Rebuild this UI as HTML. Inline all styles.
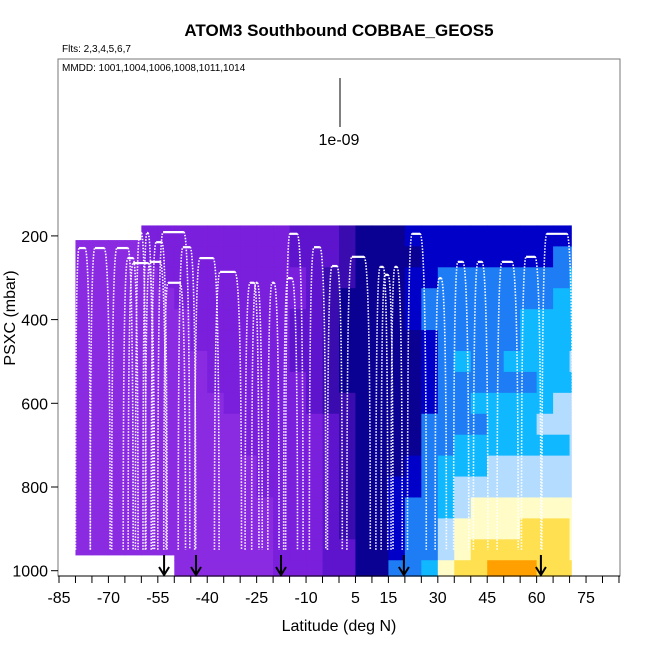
<!DOCTYPE html>
<html><head><meta charset="utf-8"><style>
html,body{margin:0;padding:0;background:#fff;}
svg{display:block;font-family:"Liberation Sans",sans-serif;}
</style></head><body>
<svg id="chart" width="650" height="650" viewBox="0 0 650 650" xmlns="http://www.w3.org/2000/svg">
<text x="339" y="36" text-anchor="middle" font-size="17" font-weight="bold">ATOM3 Southbound COBBAE_GEOS5</text>
<text x="62" y="52" font-size="10">Flts: 2,3,4,5,6,7</text>
<g id="heat"></g>
<g id="dives"></g>
<g id="arrows"></g>
<rect x="58" y="59" width="562" height="517" fill="none" stroke="#777" stroke-width="1"/>
<text x="62" y="71" font-size="10">MMDD: 1001,1004,1006,1008,1011,1014</text>
<line x1="340" y1="78" x2="340" y2="127" stroke="#000" stroke-width="1"/>
<text x="339" y="145" text-anchor="middle" font-size="16">1e-09</text>
<g id="xaxis"></g>
<g id="yaxis"></g>
<text x="339" y="631" text-anchor="middle" font-size="16">Latitude (deg N)</text>
<text transform="translate(15,318) rotate(-90)" text-anchor="middle" font-size="16">PSXC (mbar)</text>
</svg>
<script>
const xTicks=[-85,-70,-55,-40,-25,-10,5,15,30,45,60,75];
const yTicks=[200,400,600,800,1000];
const colLats=[-80,-75,-70,-65,-60,-55,-50,-45,-40,-35,-30,-25,-20,-15,-10,-5,0,5,10,15,20,25,30,35,40,45,50,55,60,65,70];
const rowPres=[200,250,300,350,400,450,500,550,600,650,700,750,800,850,900,950,1000];
const heatCols=[
[0,0,0,0,0,0,0,0,0,0,0,0,0,0,0,0,0],[0,0,0,0,0,0,0,0,0,0,0,0,0,0,0,0,0],
[0,0,0,0,0,0,0,0,0,0,0,0,0,0,0,0,0],[0,0,0,0,0,0,0,0,0,0,0,0,0,0,0,0,0],
[1,1,0,0,0,0,0,0,0,0,0,0,0,0,0,0,0],[1,1,1,0,0,0,0,0,0,0,0,0,0,0,0,0,0],
[1,1,1,1,0,0,0,0,0,0,0,0,0,0,0,0,0],[1,1,1,1,1,1,0,0,0,0,0,0,0,0,0,0,0],
[1,1,1,1,1,1,1,1,0,0,0,0,0,0,0,0,0],[1,1,1,1,1,1,1,1,1,0,0,0,0,0,0,0,0],
[1,1,1,1,1,1,1,1,1,1,1,0,0,0,0,0,0],[1,1,1,1,1,1,1,1,1,1,1,1,1,0,0,0,0],
[1,1,1,1,1,1,1,1,1,1,1,1,1,1,1,1,1],[2,2,1,1,2,2,2,1,1,1,1,1,1,1,1,1,1],
[2,2,2,2,2,2,2,2,2,1,1,1,1,1,1,1,1],[2,2,3,3,3,3,3,3,3,2,2,2,2,2,2,2,2],
[3,3,3,4,4,4,4,4,3,3,3,3,3,3,3,2,2],[4,4,4,4,4,4,4,4,4,4,4,4,4,4,4,4,4],
[4,4,4,4,4,4,4,4,4,4,4,4,4,4,4,4,4],[4,4,4,4,4,4,4,4,4,4,4,4,5,5,5,5,6],
[5,4,5,5,5,4,4,4,4,4,4,5,5,6,6,6,6],[5,5,5,6,6,5,5,5,5,6,6,6,6,6,6,6,7],
[5,5,6,6,6,6,6,6,6,6,6,7,7,7,8,8,9],[5,5,6,6,6,6,7,6,6,6,7,7,8,8,9,9,10],
[5,5,6,6,6,6,6,6,7,6,7,7,8,9,9,10,10],[5,5,6,6,6,6,6,6,7,7,7,8,8,9,9,10,11],
[5,5,6,6,6,6,7,6,7,7,7,8,8,9,9,10,11],[5,5,6,6,7,7,7,6,7,7,7,8,8,9,10,10,11],
[5,5,6,6,7,7,7,7,7,8,7,8,8,9,10,10,10],[5,6,6,7,7,7,7,7,8,8,7,8,8,9,10,10,10],
[5,6,7,7,7,7,8,7,8,8,8,8,8,9,9,9,10]];
const palette=["#8a2be2","#7a1fdc","#5e14cc","#3a0cb0","#0a0092","#0000c8","#1e7cf5","#10b8ff","#b4dcff","#fffcc8","#ffe050","#ffa000"];
// dives: ascent-bottom lat, peak start lat, peak end lat, descent-bottom lat, top pressure
const diveStart=[-80,-75.5,-69,-65.5,-64,-61.8,-59.5,-58.8,-57,-55,-53.2,-48.8,-43.8,-37.8,-28.5,-26.5,-21.6,-16.8,-16.2,-9,-3.5,2.4,11.2,12.8,15.8,20.8,29.2,34.8,40.8,48,55.4,61.6];
const peakStart=[-78.9,-74.1,-67.4,-64.1,-62.5,-60.4,-58.3,-57.4,-55.5,-53.4,-51.9,-47.4,-42.2,-36.1,-27,-25.2,-20.3,-15.5,-14.9,-7.6,-2.1,3.9,12.5,14,17,22.2,30.4,36.1,42.2,49.5,56.8,63.1];
const peakEnd=[-77.1,-71.3,-64.1,-62.5,-58,-60,-58,-54.3,-53.8,-47.1,-48.3,-45.2,-38.2,-31.6,-25.8,-24.8,-19.7,-14.3,-12.7,-5.8,-0.6,7.6,13.4,14.9,17.6,24.6,31,37.6,43.4,52.5,59.5,69.2];
const diveEnd=[-75.5,-69.5,-62.5,-61,-56,-58.6,-56.5,-52.5,-52.2,-45.3,-46.6,-43.5,-36.4,-29.6,-24.3,-23.3,-18.2,-12.6,-10.9,-4,1,9.5,14.8,16.4,19.2,26.5,32.6,39.4,45.2,54.4,61.3,71];
const diveTop=[229,229,229,253,265,193,193,262,215,191,312,227,253,286,312,312,312,301,195,227,272,250,274,293,274,195,301,262,262,262,250,195];
const arrowLats=[-53.1,-43.4,-17.6,19.7,61.3];

const NS="http://www.w3.org/2000/svg";
const xs=l=>59+(l+85)*3.294;
const ys=p=>570.7-(1000-p)*0.4185;
function mk(t,a,parent){const e=document.createElementNS(NS,t);for(const k in a)e.setAttribute(k,a[k]);parent.appendChild(e);return e;}
const heat=document.getElementById('heat');
colLats.forEach((lat,ci)=>{
  const lo=lat, hi=Math.min(lat+5,70.5);
  const pTop=lat<-61?210:162, pBot=lat<-53.5?962:1013;
  rowPres.forEach((p,ri)=>{
    let a=Math.max(p-25,pTop), b=Math.min(p+25,pBot);
    if(b<=a) return;
    const r=mk('rect',{x:xs(lo),y:ys(a),width:xs(hi)-xs(lo)+0.6,height:ys(b)-ys(a)+0.6,fill:palette[heatCols[ci][ri]]},heat);
    
    
  });
});
const dives=document.getElementById('dives');
diveStart.forEach((s,i)=>{
  const bot=950, t=diveTop[i];
  const a=mk('path',{d:`M${xs(s)},${ys(bot)} Q${xs(s)},${ys(t)} ${xs(peakStart[i])},${ys(t)}`,fill:'none',stroke:'#fff','stroke-width':1.6,'stroke-dasharray':'1.5 1.5'},dives);
  
  
  const b=mk('line',{x1:xs(peakStart[i]),y1:ys(t),x2:xs(peakEnd[i]),y2:ys(t),stroke:'#fff','stroke-width':2.2},dives);
  
  
  const c=mk('path',{d:`M${xs(peakEnd[i])},${ys(t)} Q${xs(diveEnd[i])},${ys(t)} ${xs(diveEnd[i])},${ys(bot)}`,fill:'none',stroke:'#fff','stroke-width':1.6,'stroke-dasharray':'1.5 1.5'},dives);
  
  
});
const arrows=document.getElementById('arrows');
arrowLats.forEach(l=>{
  const x=xs(l);
  const g=mk('path',{d:`M${x},555 L${x},575 M${x-5},567 L${x},575 L${x+5},567`,fill:'none',stroke:'#000','stroke-width':2},arrows);
  
  
});
const xa=document.getElementById('xaxis');
for(let l=-85;l<=85;l+=5){
  const t=mk('line',{x1:xs(l),y1:576,x2:xs(l),y2:583,stroke:'#000'},xa);
  
  
}
mk('line',{x1:58,y1:576,x2:620,y2:576,stroke:'#000'},xa);
xTicks.forEach(l=>{
  const t=mk('text',{x:xs(l),y:603,'text-anchor':'middle','font-size':16},xa);
  t.textContent=l;
  
  
});
const ya=document.getElementById('yaxis');
yTicks.forEach(p=>{
  const t=mk('line',{x1:51,y1:ys(p),x2:58,y2:ys(p),stroke:'#000'},ya);
  
  
  const tx=mk('text',{x:48,y:ys(p)+6,'text-anchor':'end','font-size':16},ya);
  tx.textContent=p;
  
  
});
</script>
</body></html>
